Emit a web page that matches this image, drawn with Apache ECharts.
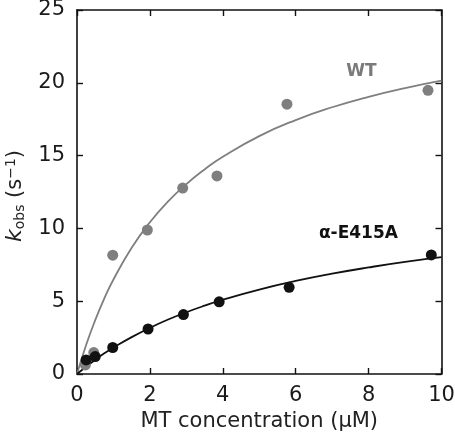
<!DOCTYPE html>
<html><head><meta charset="utf-8">
<script src="https://cdn.jsdelivr.net/npm/echarts@6/dist/echarts.min.js"></script>
<style>html,body{margin:0;padding:0;background:#fff}#c{width:455px;height:439px}</style>
</head><body><div id="c"></div>
<script>
// Measured points
const wtX = [0.23, 0.46, 0.98, 1.93, 2.9, 3.84, 5.76, 9.63];
const wtY = [0.62, 1.47, 8.16, 9.89, 12.77, 13.6, 18.53, 19.48];
const mutX = [0.25, 0.5, 0.98, 1.95, 2.92, 3.9, 5.82, 9.72];
const mutY = [0.97, 1.2, 1.82, 3.09, 4.08, 4.96, 5.95, 8.18];
// Fitted curves
const curveX = [0, 0.25, 0.5, 0.75, 1, 1.5, 2, 2.5, 3, 3.5, 4, 5, 6, 7, 8, 9, 10];
const wtCurve = [0, 1.99, 3.70, 5.19, 6.49, 8.67, 10.42, 11.85, 13.04, 14.05, 14.92, 16.34, 17.44, 18.32, 19.04, 19.64, 20.15];
const mutCurve = [0, 0.50, 0.97, 1.42, 1.81, 2.53, 3.17, 3.74, 4.24, 4.69, 5.10, 5.80, 6.39, 6.89, 7.32, 7.70, 8.02];
// Axes
const xTicks = [0, 2, 4, 6, 8, 10];
const yTicks = [0, 5, 10, 15, 20, 25];
const labels = [{text: 'WT', x: 7.8, y: 20.75, color: '#7a7a7a'}, {text: 'α-E415A', x: 7.72, y: 9.62, color: '#111'}];

const zip = (a, b) => a.map((v, i) => [v, b[i]]);
const chart = echarts.init(document.getElementById('c'));
const font = '"DejaVu Sans", "Liberation Sans", Arial, sans-serif';
const axisLine = {show: true, onZero: false, lineStyle: {color: '#111', width: 1.6}};
const tick = {show: true, inside: true, length: 6, lineStyle: {color: '#111', width: 1.4}};
const txt = '#1a1a1a';
chart.setOption({
  animation: false,
  grid: {left: 77, right: 13.5, top: 10, bottom: 65, containLabel: false, outerBoundsMode: 'none'},
  xAxis: [{
    type: 'value', min: xTicks[0], max: xTicks[xTicks.length - 1], interval: 2,
    axisLine, axisTick: tick, splitLine: {show: false},
    axisLabel: {fontSize: 21, color: txt, fontFamily: font, margin: 11},
    name: 'MT concentration (μM)', nameLocation: 'middle', nameGap: 37,
    nameTextStyle: {fontSize: 21, color: '#222', fontFamily: font}
  }, {
    type: 'value', position: 'top', min: 0, max: 10, interval: 2,
    axisLine, axisTick: tick, axisLabel: {show: false}, splitLine: {show: false}
  }],
  yAxis: [{
    type: 'value', min: yTicks[0], max: yTicks[yTicks.length - 1], interval: 5,
    axisLine, axisTick: tick, splitLine: {show: false},
    axisLabel: {fontSize: 21, color: txt, fontFamily: font, margin: 12},
    name: '{k|k}{sub|obs}{n| (s}{sup|−1}{n|)}', nameLocation: 'middle', nameGap: 50, nameRotate: 90,
    nameTextStyle: {
      fontSize: 21, color: '#222', fontFamily: font, padding: [0, 8, 0, 0],
      rich: {
        k: {fontSize: 22, fontStyle: 'italic', fontFamily: font, color: '#222'},
        sub: {fontSize: 14, fontFamily: font, color: '#222', padding: [9, 0, 0, 0]},
        n: {fontSize: 21, fontFamily: font, color: '#222'},
        sup: {fontSize: 14, fontFamily: font, color: '#222', padding: [0, 0, 9, 0]}
      }
    }
  }, {
    type: 'value', position: 'right', min: 0, max: 25, interval: 5,
    axisLine, axisTick: tick, axisLabel: {show: false}, splitLine: {show: false}
  }],
  series: [
    {type: 'line', data: zip(curveX, wtCurve), smooth: true, symbol: 'none', lineStyle: {color: '#7f7f7f', width: 1.8}, z: 2},
    {type: 'line', data: zip(curveX, mutCurve), smooth: true, symbol: 'none', lineStyle: {color: '#111', width: 1.8}, z: 2},
    {type: 'scatter', data: zip(wtX, wtY), symbolSize: 11, itemStyle: {color: '#7f7f7f', opacity: 1}, z: 3},
    {type: 'scatter', data: zip(mutX, mutY), symbolSize: 11, itemStyle: {color: '#111', opacity: 1}, z: 4}
  ]
});
chart.setOption({
  graphic: labels.map(l => {
    const p = chart.convertToPixel({xAxisIndex: 0, yAxisIndex: 0}, [l.x, l.y]);
    return {type: 'text', x: p[0], y: p[1], style: {text: l.text, fill: l.color, font: 'bold 17px ' + font, textAlign: 'center', textVerticalAlign: 'middle'}};
  })
});
</script></body></html>
